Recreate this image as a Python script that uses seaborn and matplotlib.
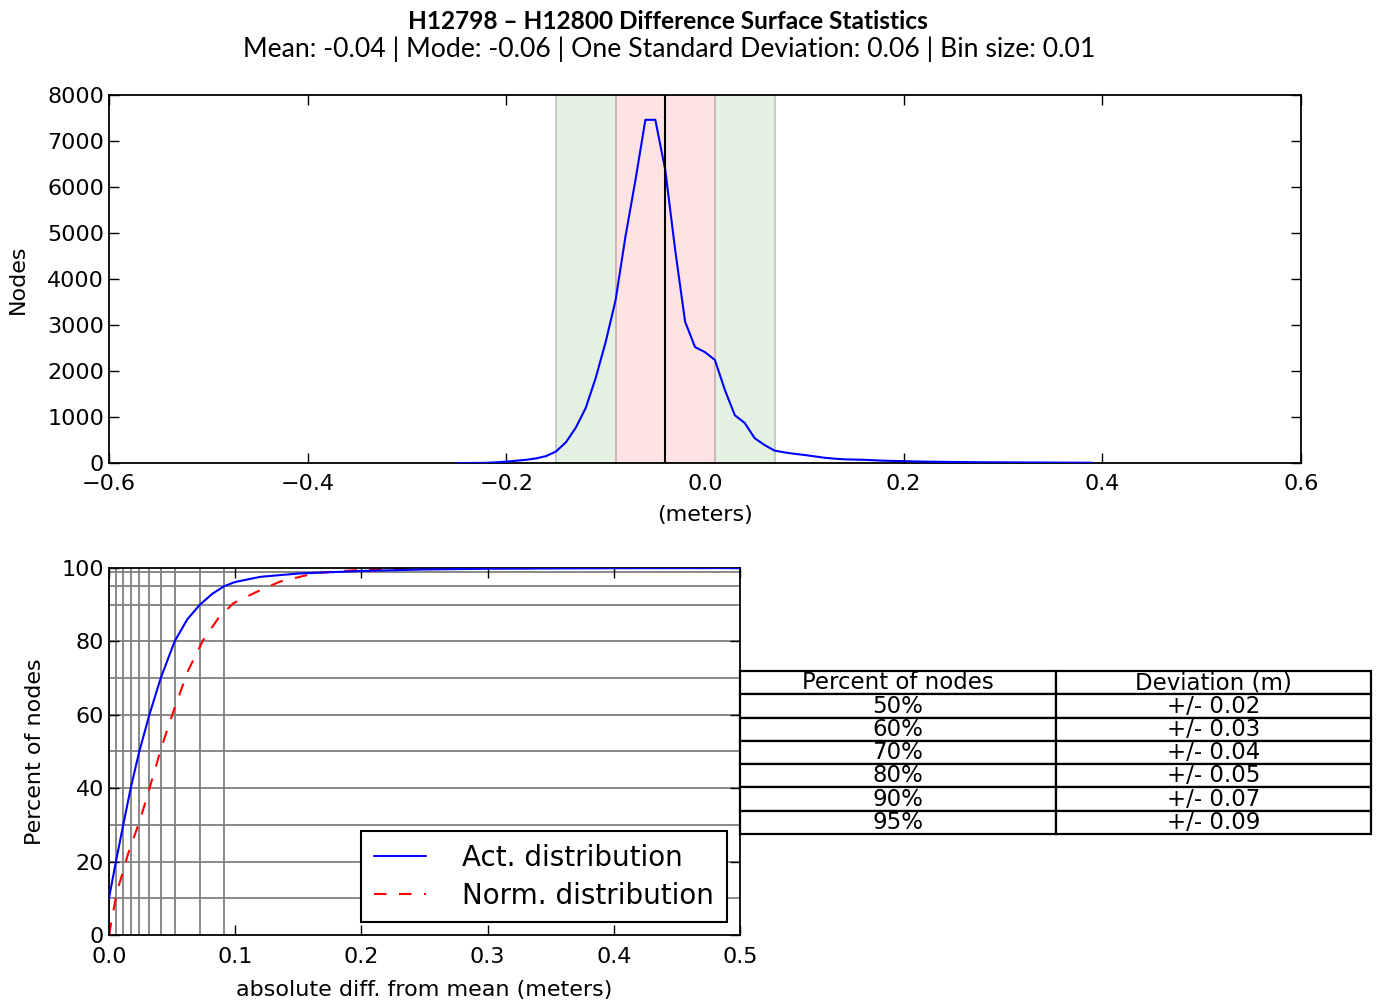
import numpy as np
import pandas as pd
import matplotlib
matplotlib.use("Agg")
import matplotlib.pyplot as plt
import seaborn as sns

# ---- data ----
hist_x = [round(-0.25 + 0.01 * i, 2) for i in range(65)]
hist_y = [0, 0, 2, 5, 15, 30, 50, 70, 100, 150,
          250, 450, 770, 1200, 1850, 2630, 3540, 4930, 6150, 7460,
          7460, 6370, 4630, 3070, 2520, 2410, 2240, 1590, 1040, 870,
          540, 390, 270, 230, 200, 175, 145, 115, 95, 80,
          75, 70, 60, 50, 45, 40, 35, 30, 28, 25,
          22, 20, 18, 16, 15, 14, 13, 12, 11, 10,
          9, 8, 7, 6, 5]

mean_val = -0.04
band_inner = (-0.09, 0.01)
band_outer = (-0.15, 0.07)

act_x = [0.0, 0.0055, 0.0113, 0.0172, 0.024, 0.032, 0.041, 0.052, 0.062, 0.072,
         0.082, 0.091, 0.10, 0.12, 0.15, 0.20, 0.25, 0.30, 0.40, 0.50]
act_y = [10, 20, 30, 40, 50, 60, 70, 80, 86, 90,
         93, 95, 96.2, 97.6, 98.5, 99.2, 99.6, 99.8, 99.95, 100]

norm_x = [0.0, 0.0061, 0.0153, 0.0246, 0.0325, 0.0417, 0.0523, 0.0629, 0.0747,
          0.0866, 0.0985, 0.117, 0.1355, 0.1646, 0.199, 0.25, 0.35, 0.50]
norm_y = [0, 11.4, 22.3, 31.3, 40.4, 51.3, 62.2, 72.2, 80.4,
          86.3, 90.4, 93.5, 96.3, 98.7, 99.5, 99.9, 100, 100]

grid_pct = [10, 20, 30, 40, 50, 60, 70, 80, 90, 95, 99]
grid_dev = [0.0, 0.0055, 0.0113, 0.0172, 0.024, 0.032, 0.041, 0.052, 0.072, 0.091]

table_cols = ["Percent of nodes", "Deviation (m)"]
table_pct = ["50%", "60%", "70%", "80%", "90%", "95%"]
table_dev = ["+/- 0.02", "+/- 0.03", "+/- 0.04", "+/- 0.05", "+/- 0.07", "+/- 0.09"]

title = "H12798 \u2013 H12800 Difference Surface Statistics"
subtitle = "Mean: -0.04 | Mode: -0.06 | One Standard Deviation: 0.06 | Bin size: 0.01"

# ---- style ----
sns.set_theme(style="white")
plt.rcParams.update({
    "font.family": ["DejaVu Sans"],
    "font.size": 16,
    "axes.edgecolor": "black",
    "axes.linewidth": 1.3,
    "xtick.direction": "in",
    "ytick.direction": "in",
    "xtick.top": True,
    "ytick.right": True,
    "xtick.bottom": True,
    "ytick.left": True,
    "xtick.major.size": 7,
    "ytick.major.size": 7,
    "xtick.major.width": 1.0,
    "ytick.major.width": 1.0,
    "xtick.labelsize": 16,
    "ytick.labelsize": 16,
    "axes.labelsize": 16,
    "xtick.color": "black",
    "ytick.color": "black",
    "text.color": "black",
    "axes.labelcolor": "black",
})

fig = plt.figure(figsize=(13.83, 10.05), dpi=100)
ax1 = fig.add_axes([0.0788, 0.5393, 0.8619, 0.3662])
ax2 = fig.add_axes([0.0788, 0.0697, 0.4563, 0.3651])

# ---- top: histogram line ----
ax1.axvspan(band_outer[0], band_outer[1], facecolor="#e4f0e2", edgecolor="#b8c8b8", lw=1.2, zorder=0)
ax1.axvspan(band_inner[0], band_inner[1], facecolor="#fde3e4", edgecolor="#c8b0b0", lw=1.2, zorder=1)
df_h = pd.DataFrame({"x": hist_x, "y": hist_y})
sns.lineplot(data=df_h, x="x", y="y", ax=ax1, color="#0000ff", lw=1.5,
             estimator=None, sort=False, zorder=3)
ax1.axvline(mean_val, color="black", lw=1.5, zorder=4)
ax1.set_xlim(-0.6, 0.6)
ax1.set_ylim(0, 8000)
ax1.set_xticks(np.arange(-0.6, 0.61, 0.2))
ax1.set_yticks(np.arange(0, 8001, 1000))
ax1.set_xticklabels(["\u22120.6", "\u22120.4", "\u22120.2", "0.0", "0.2", "0.4", "0.6"])
ax1.set_xlabel("(meters)", labelpad=8)
ax1.set_ylabel("Nodes", labelpad=14)
ax1.tick_params(axis="x", pad=8)

# ---- bottom: cumulative curves ----
for p in grid_pct:
    ax2.axhline(p, color="#808080", lw=1.3, zorder=0)
for d in grid_dev:
    ax2.axvline(d, color="#808080", lw=1.3, zorder=0)
df_a = pd.DataFrame({"x": act_x, "y": act_y})
df_n = pd.DataFrame({"x": norm_x, "y": norm_y})
sns.lineplot(data=df_a, x="x", y="y", ax=ax2, color="#0000ff", lw=1.5,
             estimator=None, sort=False, label="Act. distribution", zorder=3)
sns.lineplot(data=df_n, x="x", y="y", ax=ax2, color="#ff0000", lw=1.5,
             estimator=None, sort=False, label="Norm. distribution", zorder=2)
ax2.lines[-1].set_dashes([6, 6])
ax2.set_xlim(0, 0.5)
ax2.set_ylim(0, 100)
ax2.set_xticks(np.arange(0, 0.51, 0.1))
ax2.set_xticklabels(["0.0", "0.1", "0.2", "0.3", "0.4", "0.5"])
ax2.set_yticks(np.arange(0, 101, 20))
ax2.tick_params(axis="x", pad=9)
ax2.set_xlabel("absolute diff. from mean (meters)", labelpad=9)
ax2.set_ylabel("Percent of nodes", labelpad=12)

leg = ax2.legend(loc="lower right", bbox_to_anchor=(0.979, 0.035), fontsize=20,
                 frameon=True, fancybox=False, framealpha=1, edgecolor="black",
                 handlelength=1.9, handletextpad=1.3, borderpad=0.45,
                 labelspacing=0.35, borderaxespad=0)
leg.get_frame().set_linewidth(1.5)
leg.get_lines()[1].set_dashes([6, 6])

# ---- table ----
cell_text = [[p, d] for p, d in zip(table_pct, table_dev)]
tbl = ax2.table(cellText=cell_text, colLabels=table_cols, cellLoc="center",
                bbox=[1.0, 0.275, 1.0, 0.444])
tbl.auto_set_font_size(False)
tbl.set_fontsize(16.5)
for cell in tbl.get_celld().values():
    cell.set_linewidth(1.6)
    cell.set_edgecolor("black")

# ---- titles ----
fig.text(0.483, 0.979, title, ha="center", va="center", fontsize=17.6,
         fontweight="bold", family=["Lato", "DejaVu Sans"])
fig.text(0.484, 0.951, subtitle, ha="center", va="center", fontsize=19.2,
         family=["Lato", "DejaVu Sans"])

fig.savefig("out.png", dpi=100)
